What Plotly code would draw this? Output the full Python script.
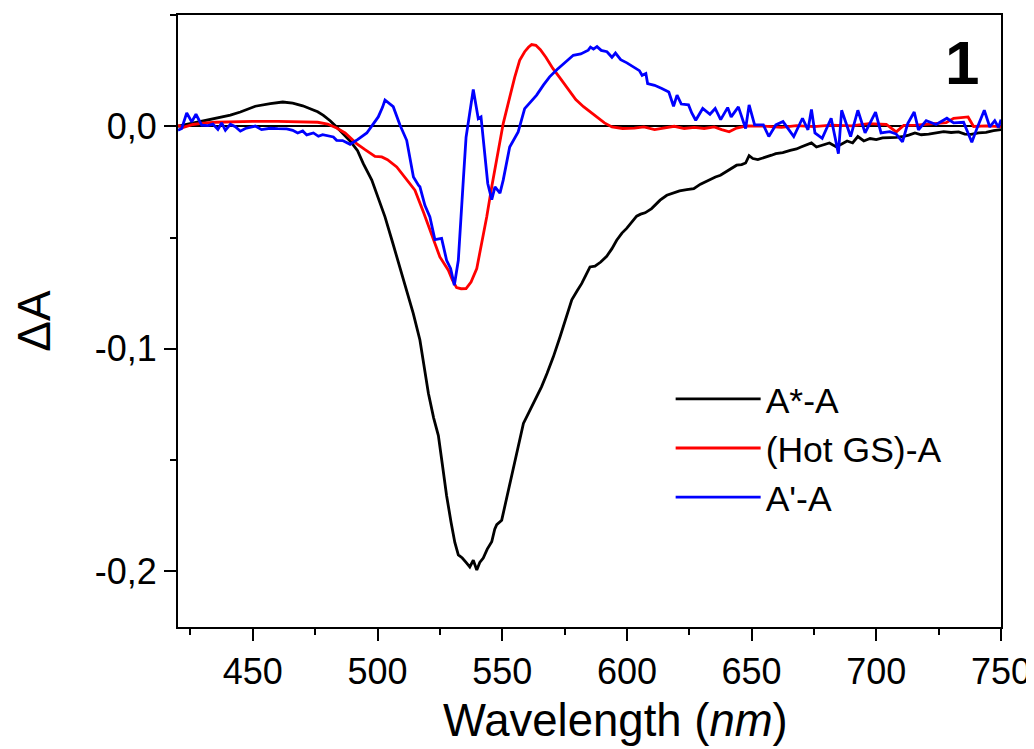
import plotly.graph_objects as go

# ---- data ----
wl_black = [420, 425, 430, 437, 441, 445, 451, 457, 462, 466, 470, 473, 476, 478.3, 481, 483.6, 486, 489, 492, 494.3,
            497.7, 500, 503, 506, 509.7, 512, 514.3, 517, 518.5, 520.4, 522.5, 524.4, 526, 527.7, 529.5, 531, 532.4,
            534, 535.5, 537, 538.4, 539.8, 541, 542.4, 544, 545.8, 547, 547.8, 549.8, 552, 554.4, 556.5, 558.5, 560.5,
            562.5, 565.8, 568, 570.5, 573.2, 575.5, 577.9, 580, 581.9, 583.5, 585.2, 587.2, 589.5, 591.9, 594, 595.9,
            598, 599.9, 602, 603.9, 605.5, 607.3, 609.9, 611.5, 613.3, 616, 619, 621.1, 624, 626.8, 629.5, 632.6,
            635.5, 637.5, 639.7, 642, 644, 646, 647.6, 649, 650.5, 652.5, 655.3, 658, 659.7, 662.5, 665.5, 668, 669.8,
            672, 674, 676, 678, 681.2, 684, 686, 688.3, 690.5, 692.6, 695, 697.5, 700, 702.5, 705.5, 708, 711, 713,
            715.5, 718, 721, 724, 727, 730, 733, 735.5, 738, 741, 744, 747, 750]
da_black = [0.0, 0.0012, 0.0024, 0.0042, 0.005, 0.0064, 0.009, 0.0102, 0.0109, 0.0104, 0.0092, 0.0079, 0.0065, 0.0049,
            0.0025, -0.0003, -0.003, -0.0066, -0.011, -0.0168,
            -0.0242, -0.031, -0.0407, -0.052, -0.0662, -0.075, -0.084, -0.096, -0.107, -0.12, -0.131, -0.139, -0.152,
            -0.166, -0.178, -0.187, -0.1926,
            -0.194, -0.196, -0.198, -0.195, -0.1994, -0.196, -0.194, -0.19, -0.1867, -0.181, -0.179, -0.177, -0.166,
            -0.1545, -0.144, -0.1335, -0.129,
            -0.1245, -0.117, -0.111, -0.1036, -0.0946, -0.086, -0.078, -0.074, -0.0706, -0.067, -0.0632, -0.0629,
            -0.061, -0.0584, -0.055, -0.0512,
            -0.048, -0.0459, -0.043, -0.0404, -0.0395, -0.0389, -0.037, -0.035, -0.0332, -0.031, -0.030, -0.029,
            -0.0285, -0.028, -0.026, -0.0242,
            -0.0228, -0.022, -0.0205, -0.019, -0.0175, -0.0172, -0.0165, -0.0132, -0.0145, -0.015, -0.0138, -0.013,
            -0.0123, -0.0118, -0.0108, -0.0102, -0.0093,
            -0.0085, -0.0075, -0.0093, -0.0085, -0.0075, -0.0093, -0.008, -0.0066, -0.0075, -0.0046, -0.0066, -0.0055,
            -0.006, -0.0052, -0.0051, -0.005, -0.0045, -0.004,
            -0.003, -0.0038, -0.0035, -0.003, -0.0024, -0.0028, -0.0025, -0.0035, -0.0036, -0.003, -0.0027, -0.002,
            -0.0015]

wl_red = [420, 422, 426, 430, 435, 440, 450, 460, 470, 476, 480, 483.6, 487, 489, 491.6, 495, 499, 501.7, 504, 507.7,
          511.7, 515, 518.4, 521.7, 525, 528.4, 530, 531.7, 533.5, 535.5, 537.5, 539.8, 541.8, 543.8, 545.8, 548,
          550.4, 553, 555, 557, 559, 560.5, 561.8, 563.5, 565.3, 567.5, 570.3, 573, 576.8, 579.5, 582.6, 585.5,
          588.2, 591, 594, 598.3, 603, 606.8, 611.1, 615, 619, 623, 627, 631, 635, 638, 641, 644, 648, 655, 662,
          668, 675, 682, 690, 697, 704, 708, 711, 716, 722, 728, 731, 736.8, 739, 744, 750]
da_red = [0.0005, -0.0005, 0.0008, 0.0014, 0.0018, 0.002, 0.0022, 0.0022, 0.0021, 0.0018, 0.001, -0.0008, -0.003,
          -0.005, -0.0078, -0.0105, -0.0135, -0.0138, -0.015, -0.0183,
          -0.0242, -0.0287, -0.0385, -0.049, -0.0587, -0.0647, -0.069, -0.0725, -0.073, -0.0729, -0.07, -0.0639,
          -0.0527, -0.0407, -0.0272, -0.013,
          0.0012, 0.013, 0.022, 0.0296, 0.0335, 0.0355, 0.0367, 0.0364, 0.0344, 0.031, 0.026, 0.022, 0.016, 0.012,
          0.0088, 0.0063,
          0.004, 0.0015, -0.0003, -0.001, -0.0008, -0.0003, -0.0015, -0.0008, 0.0, -0.001, -0.0005, -0.001, -0.0003,
          -0.0015, -0.0025, -0.0008, 0.0002, 0.0001, -0.0005,
          0.0003, -0.0002, 0.0005, 0.0002, 0.0012, 0.0008, -0.0025, 0.0004, 0.0005, 0.0012, 0.0016, 0.0036, 0.0042,
          -0.0001, 0.0002, -0.0002]

wl_blue = [420, 421.5, 423.5, 425.5, 427.2, 429.5, 432, 434, 436, 437.5, 439, 441, 443, 445, 447, 449, 451, 453.5,
           455, 457, 460, 463.6, 466, 468, 470, 471.6, 474.3, 476.3, 478, 480, 482.3, 483.6, 486, 489, 492, 495.7,
           498, 500.3, 502, 503, 506.3, 509, 511.7, 514.4, 516.4, 517, 519, 521, 523, 525.7, 527.7, 529.3, 530.8,
           532.4, 534.4, 535.5, 538.4, 540.4, 541.5, 543.5, 544.2, 545.8, 547.1, 549.1, 550.4, 553, 556.4, 559,
           563.8, 566.5, 569, 572, 575, 578.5, 581.5, 584.5, 585.4, 586.6, 588, 589.7, 592, 594, 595.4, 597.5, 600,
           602.6, 605, 606.1, 607.6, 608.3, 609.5, 611.1, 614, 616.8, 618.7, 620.1, 621.8, 624.7, 626, 627.6, 630.4,
           633.3, 635.4, 637.6, 640.4, 641.8, 644.7, 647.6, 649, 651.2, 654.7, 656.9, 659.7, 662.6, 666.9, 670.4,
           672.6, 674, 675.4, 678.3, 681.9, 684.8, 686.1, 689.7, 692.6, 695.5, 699.7, 701.9, 705.4, 708, 710.5,
           712.6, 715.2, 716.9, 720, 724, 728.3, 731, 735, 738.3, 740.5, 743.3, 745.5, 747.5, 749, 750]
da_blue = [-0.0018, -0.001, 0.006, 0.002, 0.0054, 0.0005, 0.0003, 0.001, -0.0014, 0.0015, -0.0018, 0.0009, -0.0002,
           -0.0022, -0.001, -0.0006, 0.0001, -0.0015,
           -0.0012, -0.0009, -0.0011, -0.0012, -0.0018, -0.003, -0.0021, -0.0039, -0.003, -0.0045, -0.0038, -0.0042,
           -0.0048, -0.0063, -0.0064, -0.0081, -0.006, -0.003,
           0.0005, 0.0042, 0.0085, 0.0118, 0.0088, 0.0006, -0.0063, -0.0228, -0.0265, -0.0272, -0.0355, -0.0407,
           -0.0509, -0.0504, -0.0602, -0.0639, -0.0714,
           -0.0602, -0.0242, -0.005, 0.0165, 0.0034, 0.0042, -0.0183, -0.0257, -0.033, -0.0272, -0.03, -0.0242,
           -0.0093, -0.0025, 0.0079,
           0.014, 0.0185, 0.0222, 0.0255, 0.0285, 0.0319, 0.0325, 0.0342, 0.0356, 0.0347, 0.0358, 0.0341, 0.0335,
           0.031, 0.0329, 0.0299, 0.0285,
           0.0266, 0.025, 0.0229, 0.0237, 0.0192, 0.0188, 0.0184, 0.017, 0.0154, 0.009, 0.014, 0.01, 0.0096, 0.006,
           0.0027, 0.008,
           0.0054, 0.008, 0.003, 0.0084, 0.0042, 0.0087, -0.001, 0.0096, 0.0006, 0.0006, -0.0046, 0.0006, 0.0021,
           -0.0046, 0.0036,
           -0.0016, 0.0075, -0.003, -0.0054, 0.0036, -0.0123, 0.0072, -0.0046, 0.0072, -0.003, 0.0064, -0.003,
           -0.0024, -0.0035, -0.007,
           0.0012, 0.0064, -0.0016, 0.0025, 0.0008, 0.0036, 0.0015, 0.0018, -0.0072, -0.0005, 0.0072, -0.0003,
           0.0025, -0.0005, 0.003]

series_names = ["A*-A", "(Hot GS)-A", "A'-A"]
series_colors = ["#000000", "#FF0000", "#0000FF"]

x_tickvals = [450, 500, 550, 600, 650, 700, 750]
x_minorvals = [425, 475, 525, 575, 625, 675, 725]
y_tickvals = [0.0, -0.1, -0.2]
y_ticktext = ["0,0", "-0,1", "-0,2"]
y_minorvals = [0.05, -0.05, -0.15]

FONT = "Liberation Sans, Arial, sans-serif"

fig = go.Figure()
for wl, da, name, col in zip([wl_black, wl_red, wl_blue], [da_black, da_red, da_blue], series_names, series_colors):
    fig.add_trace(go.Scatter(x=wl, y=da, mode="lines", name=name,
                             line=dict(color=col, width=2.8)))

axis_common = dict(showline=True, linecolor="black", linewidth=2.2, mirror=True, automargin=False,
                   ticks="outside", tickcolor="black", tickwidth=2, ticklen=12,
                   showgrid=False, tickfont=dict(family=FONT, size=36, color="black"))

fig.update_xaxes(range=[420, 750], tickmode="array", tickvals=x_tickvals, zeroline=False,
                 minor=dict(tickmode="array", tickvals=x_minorvals, ticks="outside", ticklen=6,
                            tickwidth=2, tickcolor="black"),
                 **axis_common)
fig.update_yaxes(range=[-0.225, 0.05], tickmode="array", tickvals=y_tickvals, ticktext=y_ticktext,
                 zeroline=True, zerolinecolor="black", zerolinewidth=2.2,
                 minor=dict(tickmode="array", tickvals=y_minorvals, ticks="outside", ticklen=6,
                            tickwidth=2, tickcolor="black"),
                 title=dict(text="ΔA", font=dict(family=FONT, size=46, color="black"), standoff=52),
                 **axis_common)

# x-axis title (placed slightly right of centre, as in the reference)
fig.add_annotation(xref="paper", yref="paper", x=0.531, y=-0.152, xanchor="center", yanchor="middle",
                   text="Wavelength (<i>nm</i>)", showarrow=False,
                   font=dict(family=FONT, size=45.5, color="black"))
# panel label
fig.add_annotation(xref="paper", yref="paper", x=0.976, y=0.922, xanchor="right", yanchor="middle",
                   text="<b>1</b>", showarrow=False, font=dict(family=FONT, size=62, color="black"))

fig.update_layout(width=1026, height=741, margin=dict(l=170, r=33, t=7, b=122),
                  plot_bgcolor="white", paper_bgcolor="white",
                  legend=dict(x=0.5986, y=0.292, xanchor="left", yanchor="middle",
                              font=dict(family=FONT, size=35.5, color="black"),
                              bgcolor="rgba(0,0,0,0)", itemwidth=85, tracegroupgap=0),
                  showlegend=True)

fig.write_html("out.html")
